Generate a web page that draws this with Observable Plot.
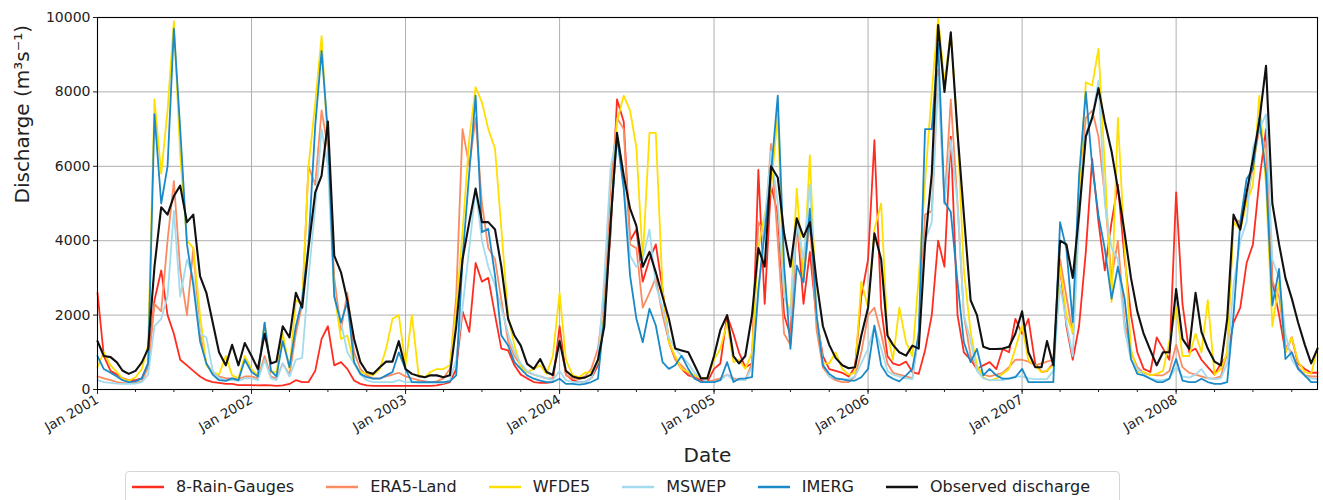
<!DOCTYPE html>
<html><head><meta charset="utf-8">
<script src="https://cdn.jsdelivr.net/npm/d3@7"></script>
<script src="https://cdn.jsdelivr.net/npm/@observablehq/plot@0.6"></script>
<style>
body{margin:0;background:#fff;font-family:"DejaVu Sans",sans-serif;width:1323px;height:500px;overflow:hidden;position:relative}
#chart svg{display:block}
#legend{position:absolute;left:125px;top:471px;width:995px;height:40px;border:1px solid #d6d6d6;border-radius:4px;box-sizing:border-box;display:flex;align-items:flex-start;padding:5px 0 0 6px;font-size:16px;color:#222;white-space:nowrap}
.item{display:flex;align-items:center;margin-right:32px;height:19px}
.item svg{margin-right:12px}
</style></head><body>
<div id="chart"></div><div id="legend"></div>
<script>
// ---- series names and colours ----
const seriesNames = ["8-Rain-Gauges", "ERA5-Land", "WFDE5", "MSWEP", "IMERG", "Observed discharge"];
const seriesColors = ["#ff2d1f", "#fb8c62", "#ffdf00", "#a3dbee", "#1a89c7", "#111111"];
// ---- axis ticks ----
const tickYears = [2001, 2002, 2003, 2004, 2005, 2006, 2007, 2008];
const yTicks = [0, 2000, 4000, 6000, 8000, 10000];
// ---- values, semi-monthly (1st and 16th of each month), Jan 2001 - Dec 2008, m3/s ----
const rainGauges = [
2600,900,500,400,300,250,250,300,700,2400,3200,2000,1500,800,650,500,350,250,200,180,150,150,120,120,
120,110,120,110,100,110,150,250,200,200,500,1360,1700,650,735,555,240,150,110,100,100,100,100,100,
100,100,100,100,100,110,150,200,550,2100,1550,3400,2900,3000,2000,1100,1050,650,400,300,200,180,180,200,
1700,400,250,200,200,300,650,2000,4200,7800,7200,4000,4300,2900,3500,3900,2700,1270,820,555,380,330,250,200,
555,700,1990,1500,1000,600,700,5900,2300,5500,4700,2000,1450,4600,2300,3700,1900,900,550,500,450,350,600,2500,
3500,6700,2200,900,700,650,750,470,420,1050,2000,4000,3300,6800,2000,1000,800,550,650,735,550,1090,1000,1900,
1500,1900,700,470,500,700,3300,1700,800,1700,3700,6200,4500,3200,4500,5500,3500,2000,1000,555,470,1400,1100,800,
5300,2300,1000,1100,800,600,400,700,900,1800,2200,3400,3900,5600,7000,2900,2000,1000,1400,700,550,450,450];
const era5Land = [
350,300,250,200,180,170,180,220,600,2300,2100,4000,5600,3200,2000,3800,1500,700,450,350,300,300,280,350,
350,300,900,350,300,700,400,1500,2300,6000,5500,7500,6500,3000,1600,2600,1000,550,380,300,300,350,400,450,
350,300,250,220,200,220,300,550,2500,7000,6000,7300,5000,3800,3500,2400,1300,900,650,470,400,350,300,300,
1400,380,300,280,350,550,1100,2500,5500,7300,7000,3900,3800,2200,2600,3000,2000,1300,800,650,450,300,200,200,
250,300,400,300,250,250,700,4500,4200,6600,4000,1500,1200,4500,3000,4500,1600,600,350,250,200,200,350,1000,
2000,2200,1500,700,450,400,350,300,1500,4700,4800,8600,5000,7800,5000,2000,900,600,400,350,400,450,600,800,
800,750,650,700,750,800,3500,2500,1500,5500,7300,7500,6800,5200,3000,4000,1800,1000,600,450,400,380,380,500,
1200,600,450,400,350,300,300,350,1000,4600,4500,5000,6000,7000,6500,2900,2500,1200,1000,600,380,350,350];
const wfde5 = [
600,1000,650,470,290,240,330,550,1200,7800,5800,7500,9900,6300,4000,3800,2000,650,470,400,900,380,300,900,
550,380,1800,500,450,1500,550,2400,2300,6000,7700,9500,6500,2600,1360,1450,690,470,430,380,550,1100,1900,2000,
650,2000,380,330,470,550,550,650,2170,4230,6740,8130,7720,7000,6470,4320,1990,1180,600,470,550,650,420,900,
2600,800,380,330,450,470,735,2000,4500,7200,7900,7500,6500,3500,6900,6900,2700,1270,900,550,470,380,320,300,
800,1100,1800,735,800,555,1000,3800,4700,5400,7400,2500,2100,5400,3000,6300,2000,700,700,1000,550,400,450,2900,
2200,4300,5000,1500,800,2200,1270,900,3000,5570,8000,10000,8260,9600,6920,3200,1540,650,330,240,290,420,550,1100,
1720,780,650,470,510,650,3300,2000,1540,5100,8260,8170,9160,6000,2350,7300,3780,1090,470,470,380,420,500,1300,
2200,900,900,1500,1000,2400,400,550,1000,4500,4300,5000,5500,7900,5500,1700,2900,1000,1400,750,470,420,1100];
const mswep = [
250,200,180,160,150,150,160,200,400,1700,1900,2500,4800,2500,3500,3000,1500,1400,500,300,250,250,230,300,
300,250,800,300,250,700,350,800,850,3000,4900,7000,6000,2500,1800,1000,700,400,250,200,200,200,200,250,
200,200,180,180,180,180,180,250,800,2200,3800,5400,4000,3300,2800,2200,1500,1000,700,500,400,350,300,250,
500,250,200,200,200,300,800,3000,6000,6800,5500,3600,3300,3500,4300,2800,2200,1400,1100,900,700,450,300,200,
200,250,400,250,250,250,600,2500,4500,6400,5000,2500,2000,4500,3500,5500,2000,700,350,300,280,280,350,700,
1100,1700,1100,500,400,350,300,280,1500,4000,4500,8400,5000,6700,5000,2000,1300,500,300,250,250,250,300,350,
350,300,280,280,280,500,2800,1800,900,4500,6900,7300,8300,5000,3800,3500,1600,800,550,400,300,250,250,300,
600,350,320,400,550,300,280,300,700,2800,4000,4500,6500,7000,7400,3500,3000,1500,800,550,350,300,280];
const imerg = [
900,550,450,350,250,200,220,300,700,7400,5000,6000,9700,7000,3900,2800,1300,700,400,250,230,300,250,800,
470,350,1800,500,350,1300,600,1700,2400,3900,7100,9100,6900,2500,1800,2350,735,420,330,290,290,380,470,1000,
550,200,200,200,200,200,200,220,380,3500,5840,7900,4230,4320,3060,1450,1180,735,555,380,290,240,200,200,
290,150,150,130,150,200,290,2000,4500,6800,5400,3060,1900,1270,2170,1720,735,555,650,910,555,290,200,200,
200,250,735,200,290,300,330,2700,4230,5800,7900,3330,1090,3330,2880,4860,1990,650,420,300,270,240,240,330,
555,1720,650,380,290,220,380,555,1500,7000,7000,9300,5040,4770,2880,1270,735,1090,380,555,380,290,290,330,
555,200,200,200,200,200,4500,3780,1810,5750,8000,6020,4680,3780,2440,3300,2440,820,420,380,290,200,200,290,
820,240,200,200,290,200,150,150,200,2000,4500,5660,5930,7300,5800,2260,3240,820,1000,555,380,200,200];
const observed = [
1300,900,870,730,510,420,500,730,1100,3300,4900,4700,5200,5480,4500,4700,3050,2600,1800,1000,650,1200,650,1250,
900,550,1500,700,750,1700,1400,2600,2200,3800,5300,5750,7200,3600,3150,2400,1360,735,470,420,600,750,750,1300,
550,420,360,330,380,380,330,380,1700,3500,4500,5400,4500,4500,4300,3300,1900,1450,1180,690,555,820,470,390,
1300,500,350,300,320,400,800,1700,4500,6900,5750,4860,4400,3300,3700,3150,2500,1900,1100,1050,1000,650,300,300,
900,1600,2000,900,700,900,2000,3800,3300,6000,5700,4200,3300,4600,4100,4500,2900,1700,1200,850,650,570,600,1450,
2200,4200,3500,1450,1200,1000,910,1180,1100,3900,5800,9800,8000,9600,6900,4700,2400,2000,1150,1090,1090,1100,1150,1500,
2100,1000,600,600,1300,650,4000,3900,3000,4700,6800,7300,8100,7200,6400,5400,4200,3000,2100,1500,1050,650,1000,1000,
2700,1360,1090,2600,1550,1100,750,650,1900,4700,4300,5300,6200,7200,8700,5000,3900,3000,2450,1800,1200,700,1100];

const seriesValues = [rainGauges, era5Land, wfde5, mswep, imerg, observed];

// ---- time grid ----
const start = new Date(Date.UTC(2001, 0, 1));
const end = new Date(Date.UTC(2008, 11, 1));
const dates = [];
for (let y = 2001; y <= 2008; y++) for (let m = 0; m < 12; m++) for (const d of [1, 16]) {
  const t = new Date(Date.UTC(y, m, d));
  if (t <= end) dates.push(t);
}
const rows = [];
seriesNames.forEach((name, k) => seriesValues[k].forEach((v, i) => {
  if (i < dates.length) rows.push({date: dates[i], value: v, series: name});
}));
const productRows = rows.filter(r => r.series !== "Observed discharge");
const obsRows = rows.filter(r => r.series === "Observed discharge");

const yearTicks = tickYears.map(y => new Date(Date.UTC(y, 0, 1)));
const quarterTicks = d3.utcMonth.every(3).range(start, end);
const fmt = d3.utcFormat("Jan %Y");

const chart = Plot.plot({
  width: 1323, height: 465,
  marginLeft: 97, marginRight: 6, marginTop: 17, marginBottom: 76,
  style: {fontFamily: "DejaVu Sans, sans-serif", fontSize: "13px", color: "#222", background: "white"},
  x: {type: "utc", domain: [start, end]},
  y: {domain: [0, 10000]},
  color: {domain: seriesNames, range: seriesColors},
  marks: [
    Plot.gridX(yearTicks, {stroke: "#b0b0b0", strokeOpacity: 1, strokeWidth: 1}),
    Plot.gridY(yTicks, {stroke: "#b0b0b0", strokeOpacity: 1, strokeWidth: 1}),
    Plot.axisX(quarterTicks, {tickSize: 3, text: null, label: null, stroke: "#222"}),
    Plot.axisX(yearTicks, {tickSize: 5, tickFormat: fmt, tickRotate: -30, fontSize: 13.5, label: null, stroke: "#222", tickPadding: 4}),
    Plot.axisY(yTicks, {tickSize: 4, tickPadding: 3, fontSize: 14, label: null, stroke: "#222", tickFormat: d => String(d)}),
    Plot.line(productRows, {x: "date", y: "value", z: "series", stroke: "series", strokeWidth: 1.8, curve: "linear"}),
    Plot.line(obsRows, {x: "date", y: "value", stroke: "series", strokeWidth: 2.1}),
    Plot.frame({stroke: "#000", strokeWidth: 1.1}),
    Plot.text(["Discharge (m³s⁻¹)"], {frameAnchor: "left", rotate: -90, dx: -75, fontSize: 20, fill: "#222"}),
    Plot.text(["Date"], {frameAnchor: "bottom", dy: 72, fontSize: 20, fill: "#222"})
  ]
});
document.getElementById("chart").appendChild(chart);

// ---- legend ----
const legend = document.getElementById("legend");
seriesNames.forEach((name, k) => {
  const item = document.createElement("div");
  item.className = "item";
  item.innerHTML = `<svg width="32" height="6"><line x1="0" y1="3" x2="32" y2="3" stroke="${seriesColors[k]}" stroke-width="2.5"/></svg><span>${name}</span>`;
  legend.appendChild(item);
});
</script></body></html>
